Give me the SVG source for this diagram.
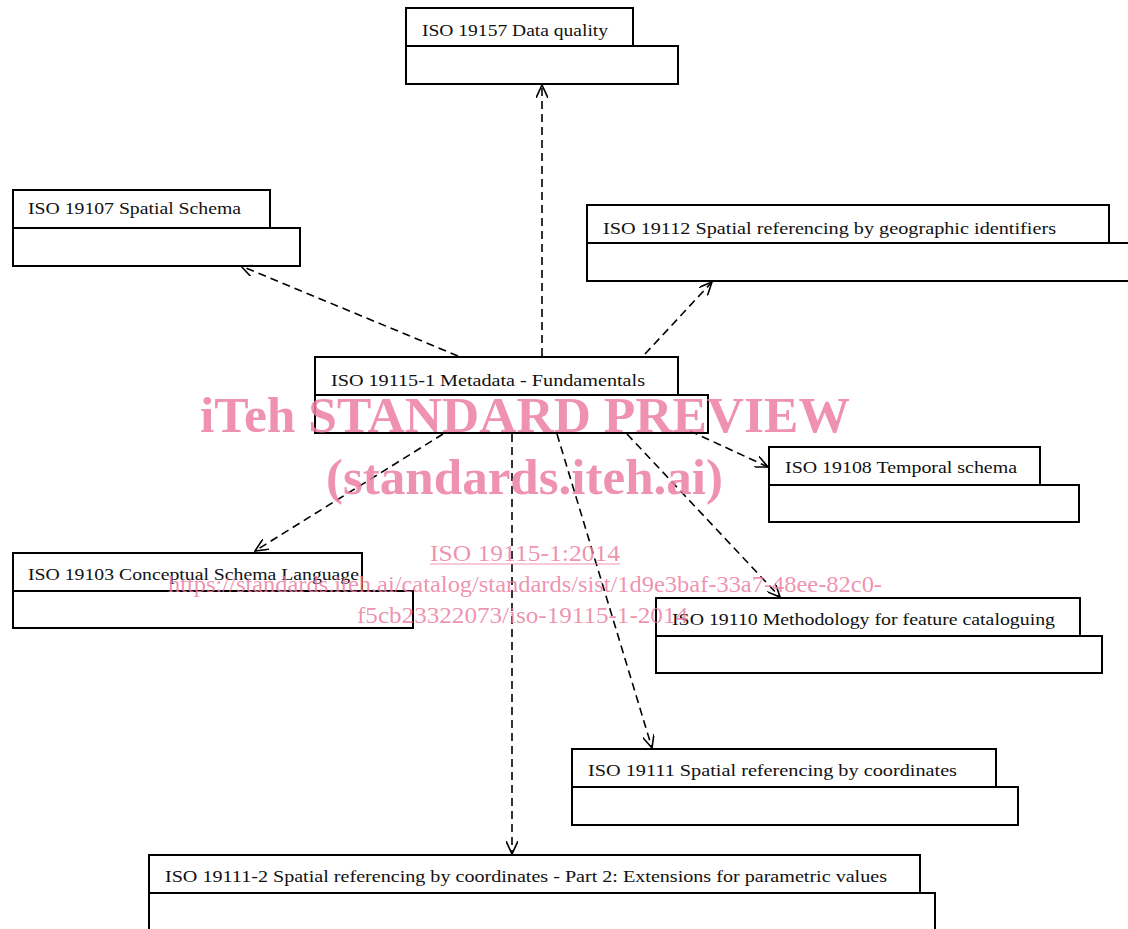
<svg xmlns="http://www.w3.org/2000/svg" width="1128" height="929" viewBox="0 0 1128 929">
<style>
.box{fill:none;stroke:#000;stroke-width:2}
.lbl{font-family:"Liberation Serif","DejaVu Serif",serif;font-size:16px;fill:#111}
.conn{fill:none;stroke:#000;stroke-width:1.6;stroke-dasharray:8,5;marker-end:url(#arr)}
.wm{font-family:"Liberation Serif","Times New Roman",serif;fill:#ec7fa3;fill-opacity:0.85}
</style>
<defs>
<marker id="arr" viewBox="0 0 14 12" refX="13" refY="6" markerWidth="14" markerHeight="12" markerUnits="userSpaceOnUse" orient="auto">
<path d="M0,0 L13,6 L0,12" fill="none" stroke="#000" stroke-width="1.6" stroke-dasharray="none"/>
</marker>
</defs>
<rect width="1128" height="929" fill="#fff"/>
<g id="connectors">
<line class="conn" x1="542" y1="356" x2="542" y2="85"/>
<line class="conn" x1="458" y1="356" x2="241" y2="266"/>
<line class="conn" x1="645" y1="354" x2="712" y2="282"/>
<line class="conn" x1="690" y1="431" x2="768" y2="467"/>
<line class="conn" x1="443" y1="434" x2="255" y2="551"/>
<line class="conn" x1="627" y1="434" x2="780" y2="597"/>
<line class="conn" x1="557" y1="434" x2="652" y2="748"/>
<line class="conn" x1="512" y1="434" x2="512" y2="854"/>
</g>
<g id="n19157">
<rect class="box" x="406" y="8" width="227" height="38"/>
<rect class="box" x="406" y="46" width="272" height="38"/>
<text class="lbl" x="422" y="36" textLength="186" lengthAdjust="spacingAndGlyphs">ISO 19157 Data quality</text>
</g>
<g id="n19107">
<rect class="box" x="13" y="190" width="257" height="38"/>
<rect class="box" x="13" y="228" width="287" height="38"/>
<text class="lbl" x="28" y="214" textLength="213" lengthAdjust="spacingAndGlyphs">ISO 19107 Spatial Schema</text>
</g>
<g id="n19112">
<rect class="box" x="587" y="205" width="522" height="38"/>
<rect class="box" x="587" y="243" width="560" height="38"/>
<text class="lbl" x="603" y="234" textLength="453" lengthAdjust="spacingAndGlyphs">ISO 19112 Spatial referencing by geographic identifiers</text>
</g>
<g id="n19115-1">
<rect class="box" x="315" y="357" width="363" height="38"/>
<rect class="box" x="315" y="395" width="393" height="38"/>
<text class="lbl" x="331" y="386" textLength="314" lengthAdjust="spacingAndGlyphs">ISO 19115-1 Metadata - Fundamentals</text>
</g>
<g id="n19108">
<rect class="box" x="769" y="447" width="271" height="38"/>
<rect class="box" x="769" y="485" width="310" height="37"/>
<text class="lbl" x="785" y="473" textLength="232" lengthAdjust="spacingAndGlyphs">ISO 19108 Temporal schema</text>
</g>
<g id="n19103">
<rect class="box" x="13" y="553" width="349" height="38"/>
<rect class="box" x="13" y="591" width="400" height="37"/>
<text class="lbl" x="28" y="580" textLength="331" lengthAdjust="spacingAndGlyphs">ISO 19103 Conceptual Schema Language</text>
</g>
<g id="n19110">
<rect class="box" x="656" y="598" width="424" height="38"/>
<rect class="box" x="656" y="636" width="446" height="37"/>
<text class="lbl" x="672" y="625" textLength="383" lengthAdjust="spacingAndGlyphs">ISO 19110 Methodology for feature cataloguing</text>
</g>
<g id="n19111">
<rect class="box" x="572" y="749" width="424" height="38"/>
<rect class="box" x="572" y="787" width="446" height="38"/>
<text class="lbl" x="588" y="776" textLength="369" lengthAdjust="spacingAndGlyphs">ISO 19111 Spatial referencing by coordinates</text>
</g>
<g id="n19111-2">
<rect class="box" x="149" y="855" width="771" height="38"/>
<rect class="box" x="149" y="893" width="786" height="40"/>
<text class="lbl" x="165" y="882" textLength="722" lengthAdjust="spacingAndGlyphs">ISO 19111-2 Spatial referencing by coordinates - Part 2: Extensions for parametric values</text>
</g>
<g id="watermark">
<text class="wm" x="200" y="432" font-size="50" font-weight="bold" textLength="650" lengthAdjust="spacingAndGlyphs">iTeh STANDARD PREVIEW</text>
<text class="wm" x="326" y="494" font-size="50" font-weight="bold" textLength="397" lengthAdjust="spacingAndGlyphs">(standards.iteh.ai)</text>
<text class="wm" x="430" y="561" font-size="24" textLength="190" lengthAdjust="spacingAndGlyphs">ISO 19115-1:2014</text>
<line x1="430" y1="564" x2="620" y2="564" stroke="#ec7fa3" stroke-opacity="0.85" stroke-width="1.2"/>
<text class="wm" x="168" y="592" font-size="24" textLength="714" lengthAdjust="spacingAndGlyphs">https://standards.iteh.ai/catalog/standards/sist/1d9e3baf-33a7-48ee-82c0-</text>
<text class="wm" x="357" y="623" font-size="24" textLength="331" lengthAdjust="spacingAndGlyphs">f5cb23322073/iso-19115-1-2014</text>
</g>
</svg>
